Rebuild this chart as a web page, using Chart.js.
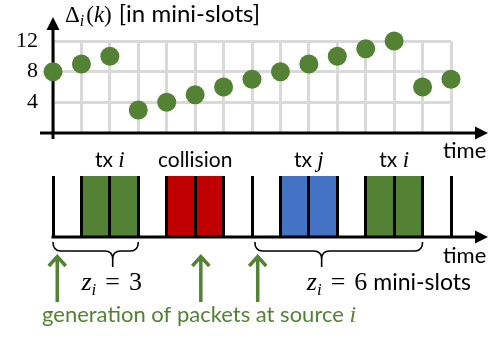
<!DOCTYPE html>
<html>
<head>
<meta charset="utf-8">
<script src="https://cdn.jsdelivr.net/npm/chart.js@4.4.0/dist/chart.umd.min.js"></script>
<style>
  html, body { margin: 0; padding: 0; background: #fff; }
  #wrap { position: relative; width: 491px; height: 339px; }
  #wrap canvas { position: absolute; left: 0; top: 0; }
</style>
</head>
<body>
<div id="wrap">
  <canvas id="age" width="491" height="339"></canvas>
  <canvas id="slots" width="491" height="339"></canvas>
</div>
<script>
// Mini-slot boundaries k = 0 … 14
const slotIndex = [0, 1, 2, 3, 4, 5, 6, 7, 8, 9, 10, 11, 12, 13, 14];
// Age of information Δ_i(k) of source i at every boundary
const ageValues = [8, 9, 10, 3, 4, 5, 6, 7, 8, 9, 10, 11, 12, 6, 7];
const ageTicks = [4, 8, 12];

// Busy mini-slots on the channel (slot k covers [k, k+1]) and who uses them
const busySlots = [1, 2, 4, 5, 8, 9, 11, 12];
const busyKind  = ['i', 'i', 'c', 'c', 'j', 'j', 'i', 'i'];

// Bursts of busy slots and the caption above each
const burstStart = [1, 4, 8, 11];
const burstEnd   = [3, 6, 10, 13];
const burstWord  = ['tx', 'collision', 'tx', 'tx'];
const burstVar   = ['i', '', 'j', 'i'];

// Packet generation instants at source i
const generationTimes = [0.15, 5.2, 7.2];

// Waiting intervals z_i shown with braces
const waitStart = [0, 7.1];
const waitEnd   = [3, 13];
const waitTip   = [2.1, 9.45];
const waitLabelAt = [1.0, 8.93];
const waitValue = ['3', '6'];
const waitUnit  = ['', 'mini-slots'];

const GREEN = '#548235';
const KIND_COLORS = { i: '#548235', c: '#c00000', j: '#4472c4' };
const SANS = 'Lato';
const SERIF = 'Liberation Serif';

function arrowHead(ctx, tx, ty, dir, len, half) {
  ctx.beginPath();
  if (dir === 'right') {
    ctx.moveTo(tx, ty); ctx.lineTo(tx - len, ty - half); ctx.lineTo(tx - len, ty + half);
  } else {
    ctx.moveTo(tx, ty); ctx.lineTo(tx - half, ty + len); ctx.lineTo(tx + half, ty + len);
  }
  ctx.closePath();
  ctx.fill();
}

// Draws a run of differently styled pieces of text on one baseline
function richText(ctx, parts, x, y, align) {
  let total = 0;
  parts.forEach(p => { ctx.font = p.font; p.w = ctx.measureText(p.t).width + (p.gap || 0); total += p.w; });
  let cx = align === 'center' ? x - total / 2 : x;
  ctx.textAlign = 'left';
  ctx.textBaseline = 'alphabetic';
  parts.forEach(p => {
    ctx.font = p.font;
    ctx.fillText(p.t, cx, y + (p.dy || 0));
    cx += p.w;
  });
}

const pinTicks = list => scale => { scale.ticks = list.map(v => ({ value: v })); };

// ---------- upper panel: age of information ----------
const ageAxes = {
  id: 'ageAxes',
  beforeDatasetsDraw(chart) {
    const { ctx, scales: { x, y } } = chart;
    const x0 = x.getPixelForValue(0), y0 = y.getPixelForValue(0);
    ctx.save();
    ctx.strokeStyle = '#000';
    ctx.fillStyle = '#000';
    ctx.lineWidth = 3;
    ctx.beginPath();
    ctx.moveTo(x0 - 13, y0); ctx.lineTo(x.right + 26, y0);
    ctx.moveTo(x0, y0 + 6); ctx.lineTo(x0, y.top - 13);
    ctx.stroke();
    arrowHead(ctx, x.right + 37, y0, 'right', 13, 6.5);
    arrowHead(ctx, x0, y.top - 24, 'up', 13, 6.5);
    ctx.restore();
  },
  afterDraw(chart) {
    const { ctx, scales: { x, y } } = chart;
    const x0 = x.getPixelForValue(0), y0 = y.getPixelForValue(0);
    ctx.save();
    ctx.fillStyle = '#000';
    richText(ctx, [
      { t: 'Δ', font: `23px ${SERIF}` },
      { t: 'i', font: `italic 16px ${SERIF}`, dy: 4, gap: 2 },
      { t: '(', font: `23px ${SERIF}` },
      { t: 'k', font: `italic 23px ${SERIF}` },
      { t: ')', font: `23px ${SERIF}`, gap: 7 },
      { t: '[in mini-slots]', font: `24px ${SANS}` }
    ], x0 + 12, 22, 'left');
    ctx.font = `22px ${SANS}`;
    ctx.textAlign = 'left';
    ctx.fillText('time', x.right - 8, y0 + 25);
    ctx.restore();
  }
};

new Chart(document.getElementById('age'), {
  type: 'scatter',
  data: {
    datasets: [{
      data: slotIndex.map((k, n) => ({ x: k, y: ageValues[n] })),
      backgroundColor: GREEN,
      borderWidth: 0,
      pointRadius: 9.5,
      pointHoverRadius: 9.5,
      clip: false
    }]
  },
  options: {
    responsive: false,
    animation: false,
    events: [],
    layout: { padding: { top: 41, bottom: 206, left: 0, right: 40 } },
    plugins: { legend: { display: false }, tooltip: { enabled: false } },
    scales: {
      x: {
        type: 'linear', min: 0, max: 14, offset: false,
        afterBuildTicks: pinTicks(slotIndex),
        ticks: { display: false },
        grid: { color: '#d9d9d9', lineWidth: 3, drawTicks: false },
        border: { display: false },
        afterFit: s => { s.height = 0; }
      },
      y: {
        type: 'linear', min: 0, max: 12,
        afterBuildTicks: pinTicks(ageTicks),
        ticks: { color: '#000', font: { family: SERIF, size: 22 }, padding: 15 },
        grid: { color: '#d9d9d9', lineWidth: 3, drawTicks: false },
        border: { display: false },
        afterFit: s => { s.width = 53; }
      }
    }
  },
  plugins: [ageAxes]
});

// ---------- lower panel: channel mini-slots ----------
const slotDecor = {
  id: 'slotDecor',
  afterDraw(chart) {
    const { ctx, scales: { x, y } } = chart;
    const x0 = x.getPixelForValue(0), y0 = y.getPixelForValue(0);
    ctx.save();
    // time axis
    ctx.strokeStyle = '#000';
    ctx.fillStyle = '#000';
    ctx.lineWidth = 3;
    ctx.beginPath();
    ctx.moveTo(x0 - 1.5, y0); ctx.lineTo(x.right + 26, y0);
    ctx.stroke();
    arrowHead(ctx, x.right + 37, y0, 'right', 13, 6.5);

    ctx.font = `22px ${SANS}`;
    ctx.textAlign = 'left';
    ctx.fillText('time', x.right - 8, y0 + 26);

    // captions of the bursts
    burstWord.forEach((w, n) => {
      const cx = x.getPixelForValue((burstStart[n] + burstEnd[n]) / 2);
      const parts = [{ t: w, font: `21px ${SANS}` }];
      if (burstVar[n]) parts.push({ t: ' ', font: `21px ${SANS}` }, { t: burstVar[n], font: `italic 23px ${SERIF}` });
      richText(ctx, parts, cx, y.top - 9, 'center');
    });

    // braces for the waiting intervals
    ctx.lineWidth = 1.6;
    const yTop = y0 + 5, yMid = y0 + 14, yBot = y0 + 30, r = 8;
    waitStart.forEach((s, n) => {
      const a = x.getPixelForValue(s), b = x.getPixelForValue(waitEnd[n]), c = x.getPixelForValue(waitTip[n]);
      ctx.beginPath();
      ctx.moveTo(a, yTop);
      ctx.quadraticCurveTo(a, yMid, a + r, yMid);
      ctx.lineTo(c - r, yMid);
      ctx.quadraticCurveTo(c, yMid, c, yMid + r);
      ctx.lineTo(c, yBot);
      ctx.moveTo(c, yMid + r);
      ctx.quadraticCurveTo(c, yMid, c + r, yMid);
      ctx.lineTo(b - r, yMid);
      ctx.quadraticCurveTo(b, yMid, b, yTop);
      ctx.stroke();

      const parts = [
        { t: 'z', font: `italic 26px ${SERIF}` },
        { t: 'i', font: `italic 17px ${SERIF}`, dy: 5, gap: 9 },
        { t: '=', font: `26px ${SERIF}`, gap: 9 },
        { t: waitValue[n], font: `26px ${SERIF}` }
      ];
      if (waitUnit[n]) parts.push({ t: ' ' + waitUnit[n], font: `23px ${SANS}` });
      richText(ctx, parts, x.getPixelForValue(waitLabelAt[n]), y0 + 53, 'left');
    });

    // packet generation arrows
    ctx.strokeStyle = GREEN;
    ctx.lineWidth = 3.5;
    generationTimes.forEach(t => {
      const px = x.getPixelForValue(t);
      const tip = y0 + 18;
      ctx.beginPath();
      ctx.moveTo(px, y0 + 65); ctx.lineTo(px, tip + 1);
      ctx.moveTo(px - 8.5, tip + 11); ctx.lineTo(px, tip + 1.5); ctx.lineTo(px + 8.5, tip + 11);
      ctx.stroke();
    });

    ctx.fillStyle = GREEN;
    richText(ctx, [
      { t: 'generation of packets at source ', font: `22px ${SANS}` },
      { t: 'i', font: `italic 24px ${SERIF}` }
    ], x0 - 11, y0 + 85, 'left');
    ctx.restore();
  }
};

new Chart(document.getElementById('slots'), {
  type: 'bar',
  data: {
    datasets: [{
      data: busySlots.map(k => ({ x: k + 0.5, y: 1 })),
      backgroundColor: busyKind.map(c => KIND_COLORS[c]),
      borderWidth: 0,
      barPercentage: 1,
      categoryPercentage: 1
    }]
  },
  options: {
    responsive: false,
    animation: false,
    events: [],
    layout: { padding: { top: 176, bottom: 102, left: 53, right: 40 } },
    plugins: { legend: { display: false }, tooltip: { enabled: false } },
    scales: {
      x: {
        type: 'linear', min: 0, max: 14, offset: false,
        afterBuildTicks: pinTicks(slotIndex),
        ticks: { display: false },
        grid: { color: '#000', lineWidth: 3, drawTicks: false, offset: false, z: 1 },
        border: { display: false },
        afterFit: s => { s.height = 0; }
      },
      y: { type: 'linear', display: false, min: 0, max: 1 }
    }
  },
  plugins: [slotDecor]
});
</script>
</body>
</html>
